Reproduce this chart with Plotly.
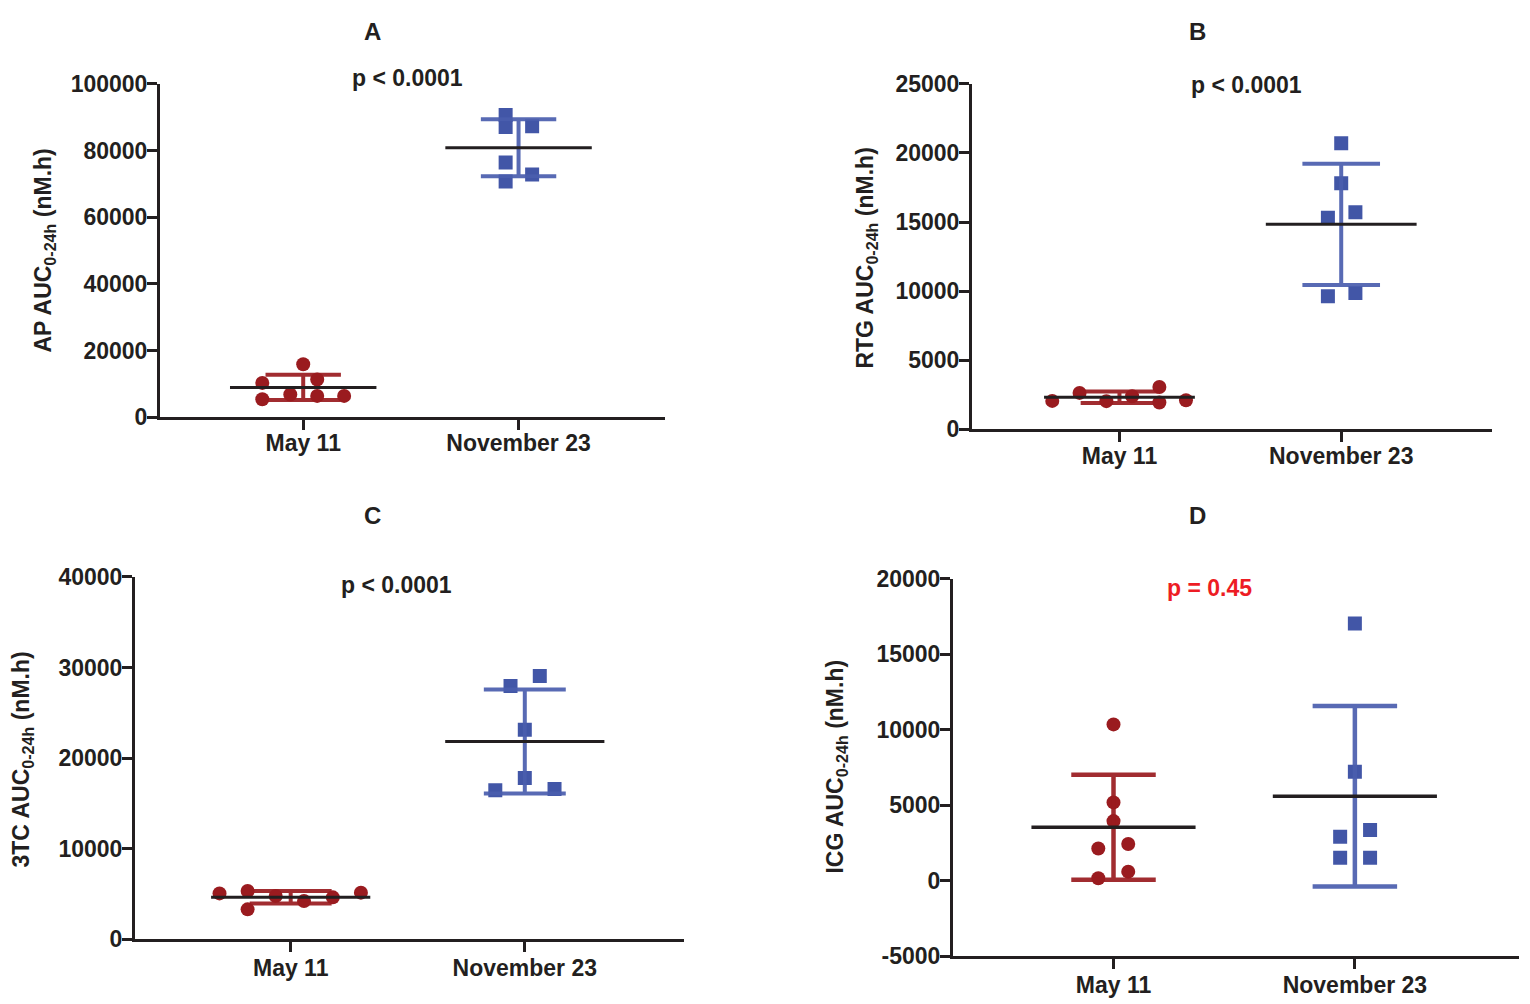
import numpy as np
import plotly.graph_objects as go

# figure placed inside the page's 8px body margin
OFF_X = 8
W, H = 1514, 1004
# measured vertical placement of the figure in the captured picture
Y0, YS = 20.0, 0.976

# ---------------- data ----------------
categories = ["May 11", "November 23"]

# Panel A: AP AUC0-24h
A_may_vals = [15900, 10300, 11300, 5400, 6800, 6400, 6400]
A_may_off = [0.0, -0.19, 0.065, -0.19, -0.06, 0.065, 0.19]
A_nov_vals = [90700, 87100, 87300, 76400, 72800, 70700]
A_nov_off = [-0.06, -0.06, 0.063, -0.06, 0.063, -0.06]

# Panel B: RTG AUC0-24h
B_may_vals = [2050, 2630, 2030, 2390, 3060, 1930, 2100]
B_may_off = [-0.303, -0.18, -0.059, 0.057, 0.18, 0.18, 0.30]
B_nov_vals = [20700, 17800, 15300, 15700, 9620, 9860]
B_nov_off = [0.0, 0.0, -0.06, 0.064, -0.06, 0.064]

# Panel C: 3TC AUC0-24h
C_may_vals = [5060, 5320, 3300, 4770, 4220, 4620, 5140]
C_may_off = [-0.304, -0.184, -0.184, -0.064, 0.057, 0.18, 0.30]
C_nov_vals = [29060, 27960, 23120, 17800, 16440, 16590]
C_nov_off = [0.064, -0.061, 0.0, 0.0, -0.126, 0.127]

# Panel D: ICG AUC0-24h
D_may_vals = [10360, 5190, 3950, 2140, 2430, 160, 600]
D_may_off = [0.0, 0.0, 0.0, -0.063, 0.061, -0.063, 0.061]
D_nov_vals = [17050, 7220, 2920, 3360, 1520, 1520]
D_nov_off = [0.0, 0.0, -0.061, 0.063, -0.061, 0.063]

A_yticks = [0, 20000, 40000, 60000, 80000, 100000]
B_yticks = [0, 5000, 10000, 15000, 20000, 25000]
C_yticks = [0, 10000, 20000, 30000, 40000]
D_yticks = [-5000, 0, 5000, 10000, 15000, 20000]
D_yticklabels = ["-5000", "0", "5000", "10000", "15000", "20000"]

panel_letters = ["A", "B", "C", "D"]
p_texts = ["p < 0.0001", "p < 0.0001", "p < 0.0001", "p = 0.45"]
y_titles = ["AP AUC<sub>0-24h</sub> (nM.h)", "RTG AUC<sub>0-24h</sub> (nM.h)",
            "3TC AUC<sub>0-24h</sub> (nM.h)", "ICG AUC<sub>0-24h</sub> (nM.h)"]

# ---------------- style ----------------
RED = "#9A1B1F"
BLUE = "#4256A7"
BLUE_ERR = "#4A5EAE"
DARK = "#231F20"
PRED = "#ED1C24"
FONT = "Liberation Sans, Arial, sans-serif"
CAP = 0.175
MEANW = 0.34


def px_x(x):
    return (x - OFF_X) / W


def px_y(y):
    return 1 - ((y - Y0) / YS) / H


panels = [
    dict(may=(A_may_vals, A_may_off), nov=(A_nov_vals, A_nov_off),
         yticks=A_yticks, ylabels=[str(v) for v in A_yticks], yr=[0, 100000],
         dom=(160, 665, 83, 417), letter=(372, 31), p=(407, 77), yt=(45, 250),
         lw=(3, 4), xso=-7),
    dict(may=(B_may_vals, B_may_off), nov=(B_nov_vals, B_nov_off),
         yticks=B_yticks, ylabels=[str(v) for v in B_yticks], yr=[0, 25000],
         dom=(972, 1492, 83, 429), letter=(1197, 31), p=(1246, 84), yt=(867, 258),
         lw=(3, 4), xso=-6),
    dict(may=(C_may_vals, C_may_off), nov=(C_nov_vals, C_nov_off),
         yticks=C_yticks, ylabels=[str(v) for v in C_yticks], yr=[0, 40000],
         dom=(135, 684, 577, 940), letter=(372, 515), p=(396, 585), yt=(23, 760),
         lw=(3, 4), xso=-4),
    dict(may=(D_may_vals, D_may_off), nov=(D_nov_vals, D_nov_off),
         yticks=D_yticks, ylabels=D_yticklabels, yr=[-5000, 20000],
         dom=(953, 1519, 579, 957), letter=(1197, 515), p=(1209, 588), yt=(837, 767),
         lw=(3.5, 4.5), xso=-4),
]

fig = go.Figure()
annotations = []
layout_axes = {}

for i, pn in enumerate(panels):
    k = "" if i == 0 else str(i + 1)
    xa, ya = "x" + k, "y" + k
    x0, x1, y0, y1 = pn["dom"]
    mean_w, err_w = pn["lw"]

    for ci, (key, color, sym, ecol) in enumerate([("may", RED, "circle", RED),
                                                   ("nov", BLUE, "square", BLUE_ERR)]):
        vals, offs = pn[key]
        vals = np.array(vals, dtype=float)
        xs = ci + np.array(offs)
        m = vals.mean()
        sd = vals.std(ddof=1)
        fig.add_trace(go.Scatter(x=xs, y=vals, mode="markers", xaxis=xa, yaxis=ya,
                                 marker=dict(symbol=sym, size=14, color=color, line=dict(width=0)),
                                 showlegend=False, hoverinfo="y"))
        ex = [ci, ci, None, ci - CAP, ci + CAP, None, ci - CAP, ci + CAP]
        ey = [m - sd, m + sd, None, m + sd, m + sd, None, m - sd, m - sd]
        fig.add_trace(go.Scatter(x=ex, y=ey, mode="lines", xaxis=xa, yaxis=ya,
                                 line=dict(color=ecol, width=err_w), opacity=0.92,
                                 showlegend=False, hoverinfo="skip"))
        fig.add_trace(go.Scatter(x=[ci - MEANW, ci + MEANW], y=[m, m], mode="lines",
                                 xaxis=xa, yaxis=ya, line=dict(color=DARK, width=mean_w),
                                 showlegend=False, hoverinfo="skip"))

    axis_common = dict(showline=True, linewidth=3, linecolor=DARK, ticks="outside",
                       ticklen=10, tickwidth=3, tickcolor=DARK, showgrid=False,
                       zeroline=False, tickfont=dict(family=FONT, size=23, color=DARK, weight="bold"))
    layout_axes["xaxis" + k] = dict(axis_common, domain=[px_x(x0), px_x(x1)], anchor=ya,
                                    range=[-0.665, 1.68], tickvals=[0, 1], ticktext=categories,
                                    ticklabelstandoff=pn["xso"])
    layout_axes["yaxis" + k] = dict(axis_common, domain=[px_y(y1), px_y(y0)], anchor=xa,
                                    range=pn["yr"], tickvals=pn["yticks"], ticktext=pn["ylabels"],
                                    ticklabelstandoff=-5)

    annotations.append(dict(text=panel_letters[i], x=px_x(pn["letter"][0]), y=px_y(pn["letter"][1]),
                            xref="paper", yref="paper", showarrow=False, xanchor="center", yanchor="middle",
                            font=dict(family=FONT, size=24, color=DARK, weight="bold")))
    annotations.append(dict(text=p_texts[i], x=px_x(pn["p"][0]), y=px_y(pn["p"][1]),
                            xref="paper", yref="paper", showarrow=False, xanchor="center", yanchor="middle",
                            font=dict(family=FONT, size=23, color=PRED if i == 3 else DARK, weight="bold")))
    annotations.append(dict(text=y_titles[i], x=px_x(pn["yt"][0]), y=px_y(pn["yt"][1]),
                            xref="paper", yref="paper", showarrow=False, xanchor="center", yanchor="middle",
                            textangle=-90,
                            font=dict(family=FONT, size=23, color=DARK, weight="bold")))

fig.update_layout(width=W, height=H, margin=dict(l=0, r=0, t=0, b=0),
                  paper_bgcolor="white", plot_bgcolor="white",
                  annotations=annotations, **layout_axes)

fig.write_html("out.html")
